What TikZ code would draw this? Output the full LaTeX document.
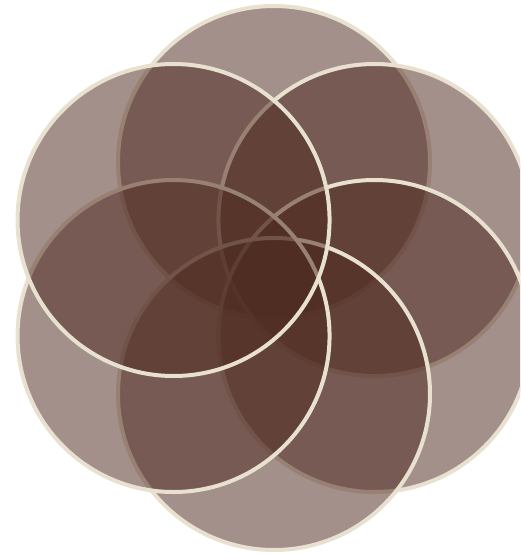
\documentclass[tikz,border=0pt]{standalone}
\usepackage{tikz}
\definecolor{petalbrown}{RGB}{78, 42, 32}
\definecolor{petalcream}{RGB}{233, 225, 207}
\usetikzlibrary{calc}

\begin{document}
\begin{tikzpicture}[
    x=1pt, y=-1pt,
    petal/.style={circle, draw=petalcream, line width=4pt, fill=petalbrown,
                  fill opacity=0.52, minimum size=312pt, inner sep=0pt}
]
    \useasboundingbox (0,0) rectangle (520,554);
    \clip (0,0) rectangle (520,554);

    \coordinate (centre) at (274,278);

    % six petals, clockwise from the top
    \foreach \ang [count=\i] in {-90,-30,30,90,150,210}
        \node[petal] (petal\i) at ($(centre)+(\ang:116)$) {};
\end{tikzpicture}
\end{document}
